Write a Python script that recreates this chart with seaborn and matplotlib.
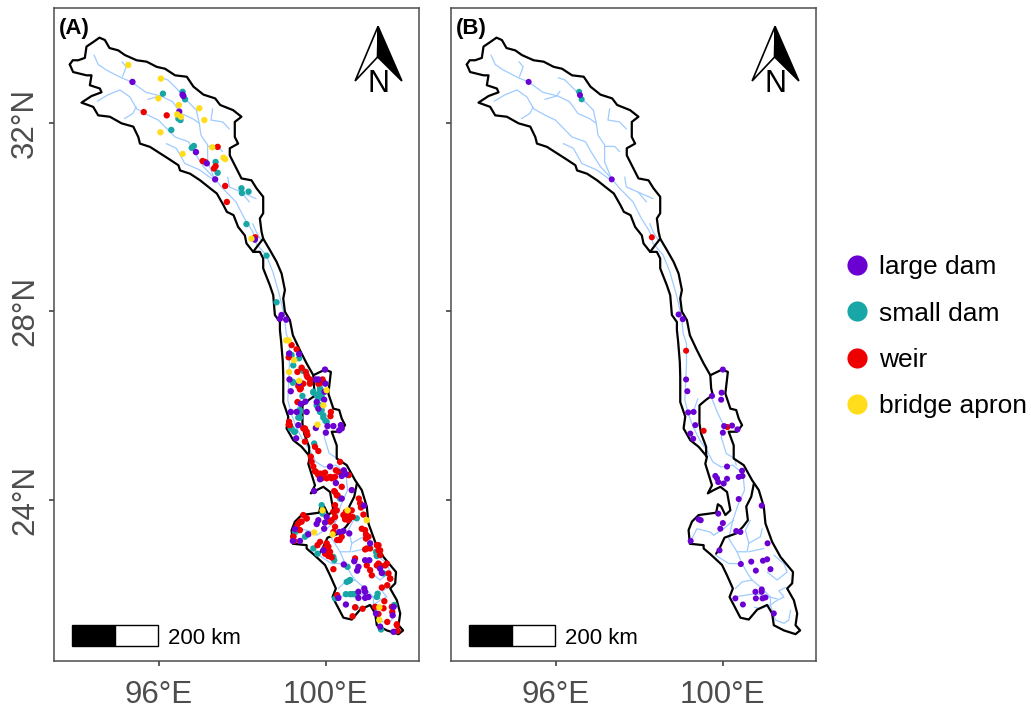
import pandas as pd
import matplotlib.pyplot as plt
from matplotlib.lines import Line2D
from matplotlib.patches import Polygon, Rectangle
import seaborn as sns

# basin outline (lon, lat)
outline = [
    (93.87, 33.24), (93.94, 33.33), (94.07, 33.33), (94.23, 33.38), (94.27, 33.62), (94.42, 33.71),
    (94.58, 33.81), (94.71, 33.76), (94.82, 33.59), (95.03, 33.54), (95.19, 33.44), (95.47, 33.33),
    (95.71, 33.30), (95.95, 33.19), (96.15, 33.15), (96.39, 33.01), (96.67, 32.98), (96.83, 32.77),
    (97.07, 32.60), (97.35, 32.52), (97.47, 32.38), (97.78, 32.27), (97.98, 32.13), (97.82, 32.02),
    (97.82, 31.70), (97.90, 31.56), (97.70, 31.46), (97.70, 31.31), (97.86, 31.03), (97.98, 30.82),
    (98.22, 30.78), (98.34, 30.61), (98.50, 30.43), (98.50, 30.08), (98.42, 29.97), (98.46, 29.69),
    (98.50, 29.54), (98.66, 29.30), (98.82, 29.05), (98.94, 28.80), (99.02, 28.45), (98.98, 28.27),
    (99.02, 27.99), (99.14, 27.81), (99.21, 27.49), (99.38, 27.17), (99.54, 26.89), (99.70, 26.64),
    (99.98, 26.76), (100.12, 26.71), (100.06, 26.25), (100.18, 25.93), (100.32, 25.90), (100.38, 25.72),
    (100.46, 25.58), (100.34, 25.44), (100.14, 25.44), (100.26, 25.15), (100.26, 24.87), (100.50, 24.73),
    (100.70, 24.41), (100.86, 24.20), (100.98, 23.85), (101.02, 23.49), (101.18, 23.10), (101.38, 22.78),
    (101.68, 22.46), (101.66, 22.22), (101.54, 22.11), (101.70, 21.86), (101.78, 21.58), (101.74, 21.33),
    (101.85, 21.22), (101.74, 21.14), (101.46, 21.22), (101.22, 21.33), (101.18, 21.58), (101.06, 21.76),
    (100.82, 21.66), (100.62, 21.45), (100.42, 21.49), (100.26, 21.76), (100.16, 21.93), (100.24, 22.11),
    (100.10, 22.39), (99.98, 22.61), (99.70, 22.84), (99.54, 22.96), (99.54, 23.03), (99.21, 23.06),
    (99.18, 23.35), (99.26, 23.53), (99.42, 23.67), (99.84, 23.72), (99.88, 23.90), (99.96, 23.85),
    (100.06, 23.67), (100.18, 23.77), (100.10, 24.16), (99.94, 24.27), (99.78, 24.20), (99.64, 24.13),
    (99.74, 24.30), (99.58, 24.76), (99.62, 24.91), (99.42, 25.12), (99.22, 25.26), (99.06, 25.51),
    (99.10, 25.76), (98.98, 26.07), (98.98, 26.61), (98.97, 26.92), (98.93, 27.35), (98.90, 27.60),
    (98.90, 27.77), (98.78, 27.92), (98.74, 28.34), (98.66, 28.55), (98.50, 28.91), (98.50, 29.12),
    (98.42, 29.26), (98.26, 29.26), (98.10, 29.44), (98.06, 29.61), (97.90, 29.79), (97.79, 30.04),
    (97.63, 30.11), (97.55, 30.25), (97.39, 30.50), (97.23, 30.61), (96.99, 30.78), (96.75, 30.92),
    (96.51, 30.99), (96.47, 31.10), (96.23, 31.24), (95.91, 31.42), (95.79, 31.49), (95.55, 31.56),
    (95.51, 31.70), (95.39, 31.92), (95.11, 31.99), (94.83, 32.13), (94.55, 32.16), (94.43, 32.34),
    (94.15, 32.43), (94.39, 32.57), (94.63, 32.65), (94.59, 32.73), (94.35, 32.80), (94.39, 33.01),
    (94.27, 33.01), (93.95, 33.08), (93.87, 33.24),
]

# inner sub-basin boundaries
boundaries = [
    [(98.26, 29.26), (98.36, 29.38), (98.50, 29.54)],
    [(99.70, 26.64), (99.72, 26.36), (99.76, 26.22), (99.60, 26.12), (99.44, 26.00), (99.44, 25.61),
     (99.48, 25.40), (99.60, 25.12), (99.60, 24.92)],
    [(100.74, 24.33), (100.68, 24.06), (100.56, 23.85), (100.60, 23.56), (100.48, 23.42), (100.32, 23.28),
     (100.04, 23.19), (99.92, 22.96), (99.84, 22.85)],
]

# river network
rivers = [
    [(94.45, 33.44), (94.55, 33.24), (94.75, 33.12), (95.10, 32.96), (95.35, 32.87), (95.69, 32.65),
     (96.05, 32.57), (96.33, 32.45), (96.53, 32.20), (96.81, 32.09), (96.97, 31.99), (97.01, 31.74),
     (97.17, 31.53), (97.17, 31.17), (97.33, 30.82), (97.53, 30.61), (97.85, 30.32), (98.05, 29.97),
     (98.25, 29.69), (98.33, 29.44), (98.57, 29.19), (98.73, 28.84), (98.89, 28.34), (99.01, 27.88),
     (99.05, 27.53), (99.13, 27.31), (99.13, 26.89), (99.11, 26.53), (99.09, 26.11),
     (99.17, 25.83), (99.29, 25.54), (99.45, 25.26), (99.64, 25.01), (99.76, 24.80), (99.96, 24.69),
     (100.24, 24.73), (100.48, 24.55), (100.52, 24.20), (100.36, 23.88), (100.24, 23.56), (100.14, 23.17),
     (100.34, 22.89), (100.46, 22.64), (100.62, 22.39), (100.70, 22.29), (100.94, 22.11), (101.14, 21.93),
     (101.14, 21.76), (101.26, 21.44), (101.46, 21.37), (101.58, 21.44), (101.62, 21.65)],
    [(95.12, 33.30), (95.22, 33.19), (95.13, 32.98)],
    [(94.53, 32.46), (94.77, 32.59), (95.07, 32.70), (95.31, 32.55), (95.47, 32.30), (95.75, 32.16),
     (95.99, 32.06), (96.19, 31.88), (96.39, 31.70), (96.71, 31.60), (96.87, 31.35), (97.07, 31.07),
     (97.33, 30.82)],
    [(95.46, 32.34), (95.38, 32.20), (95.18, 32.09)],
    [(96.18, 31.56), (96.42, 31.46), (96.58, 31.21), (96.62, 31.14), (96.98, 31.00), (97.26, 30.82)],
    [(96.06, 32.96), (96.22, 32.91), (96.46, 32.70), (96.62, 32.52), (96.90, 32.27), (96.97, 31.99)],
    [(95.74, 32.50), (96.02, 32.57), (96.10, 32.67)],
    [(97.29, 32.30), (97.25, 32.06), (97.53, 32.02), (97.69, 31.87)],
    [(97.17, 31.50), (97.41, 31.50), (97.53, 31.39)],
    [(97.65, 30.85), (97.69, 30.64), (97.97, 30.53), (98.33, 30.39)],
    [(97.97, 30.53), (98.17, 30.32)],
    [(98.25, 29.86), (98.33, 29.69), (98.45, 29.51)],
    [(99.72, 26.18), (99.88, 25.83), (100.04, 25.54), (99.96, 25.33), (100.08, 24.98), (100.28, 24.87),
     (100.32, 24.73)],
    [(99.40, 26.14), (99.32, 25.93), (99.21, 25.83)],
    [(99.26, 23.17), (99.38, 23.38), (99.70, 23.31), (99.78, 23.24), (100.02, 23.38), (100.26, 23.56)],
    [(100.34, 22.89), (100.58, 22.89), (100.62, 23.07), (100.54, 23.35), (100.66, 23.56)],
    [(100.70, 22.29), (100.46, 22.25), (100.30, 22.11)],
    [(100.62, 23.07), (100.90, 23.21), (100.94, 23.38)],
    [(100.62, 22.89), (100.98, 22.96)],
    [(99.82, 22.82), (100.14, 22.64), (100.42, 22.64)],
    [(101.22, 22.82), (101.46, 22.64), (101.54, 22.46), (101.30, 22.29), (101.06, 22.46)],
    [(101.50, 22.13), (101.34, 22.06), (101.46, 21.93), (101.30, 21.86), (101.14, 21.76), (100.90, 21.69),
     (100.75, 21.71)],
    [(100.26, 21.93), (100.78, 22.00), (101.30, 21.89)],
]

# panel A barriers
a_large = [
    (95.37, 32.87), (96.57, 32.60), (96.59, 32.57), (96.49, 32.24), (96.89, 31.38), (97.15, 31.14),
    (97.35, 30.80), (98.30, 29.52), (98.90, 27.84), (98.94, 27.92), (99.05, 27.82),
    (99.36, 27.09), (99.12, 27.10), (99.13, 26.55), (99.16, 26.30), (99.36, 26.48), (99.16, 25.86),
    (99.30, 25.86), (99.54, 25.86), (99.40, 26.03), (99.51, 26.08), (99.76, 26.55), (99.82, 26.55),
    (99.98, 26.76), (99.99, 26.46), (99.97, 26.29), (99.96, 26.12), (99.78, 26.07), (99.82, 25.93),
    (99.34, 25.58), (99.76, 25.52), (100.00, 25.42), (99.29, 25.30), (100.04, 25.56), (100.18, 25.56),
    (100.36, 25.58), (100.38, 25.51), (100.32, 25.47), (100.10, 24.70), (100.43, 24.62), (100.38, 24.50),
    (100.48, 24.54), (99.86, 24.43), (100.24, 24.35), (99.72, 24.18), (100.62, 24.20), (100.38, 24.02),
    (100.91, 23.87), (100.02, 23.63), (99.82, 23.56), (99.78, 23.48), (99.98, 23.51), (99.96, 23.38),
    (99.26, 23.37), (99.38, 23.12), (99.21, 23.12), (99.58, 23.26), (100.32, 23.31), (100.42, 23.33),
    (100.56, 23.28), (101.06, 23.07), (99.94, 22.92), (100.68, 22.69), (100.43, 22.62), (101.04, 22.71),
    (100.94, 22.71), (100.78, 22.57), (100.75, 22.49), (101.30, 22.53), (101.34, 22.44), (100.92, 22.11),
    (100.78, 22.04), (100.94, 22.04), (100.78, 21.91), (100.94, 21.91), (101.02, 21.93), (100.30, 21.91),
    (100.48, 21.77), (101.20, 21.58), (101.62, 21.72), (101.60, 21.54), (101.62, 21.19), (101.30, 21.30),
]
a_small = [
    (96.10, 32.62), (96.57, 32.66), (96.63, 32.50), (96.47, 32.09), (96.52, 32.06), (96.30, 31.85),
    (96.79, 31.47), (96.84, 31.51), (97.36, 31.17), (97.41, 30.94), (97.98, 30.61), (97.99, 30.51),
    (98.15, 30.54), (98.10, 29.85), (98.58, 29.18), (98.82, 28.19),
    (99.13, 27.10), (99.36, 27.00), (99.22, 26.85), (99.44, 26.76), (99.21, 26.48), (99.42, 26.43),
    (99.44, 26.20), (99.70, 26.27), (99.86, 26.32), (99.78, 26.22), (99.34, 25.74), (99.38, 25.86),
    (99.86, 26.00), (99.94, 25.79), (99.99, 25.67), (99.18, 25.51), (99.26, 25.44), (99.72, 25.19),
    (99.90, 23.88), (99.92, 23.70), (99.34, 23.35), (99.50, 23.21), (99.56, 23.26), (99.26, 23.31),
    (99.70, 22.96), (99.80, 22.85), (100.18, 22.78), (100.20, 22.71), (100.52, 22.57), (100.50, 22.25),
    (100.55, 22.27), (100.48, 21.99), (100.58, 21.99), (100.67, 21.99), (100.22, 21.90), (100.71, 21.71),
    (101.24, 22.00), (101.22, 21.93), (101.38, 22.43), (101.20, 22.89), (101.22, 22.82), (100.74, 23.60),
    (100.34, 24.02), (101.32, 21.24), (101.64, 21.76), (99.90, 26.18), (99.90, 25.90),
    (99.70, 26.29), (99.86, 26.36), (99.90, 26.25), (99.82, 26.14), (99.78, 26.00), (99.86, 25.86),
    (99.94, 25.74), (100.02, 25.65), (99.42, 26.78), (99.46, 26.73), (99.18, 27.07), (99.21, 26.50),
    (99.42, 26.46), (99.38, 25.90), (99.38, 25.74), (99.16, 25.51), (99.24, 25.44), (100.62, 21.99),
    (100.70, 21.99), (100.58, 22.29), (101.22, 22.80),
]
a_weir = [
    (95.64, 32.23), (96.19, 32.16), (97.41, 31.49), (97.05, 31.19), (97.11, 31.17), (97.32, 31.03),
    (97.36, 31.08), (97.59, 30.66), (97.63, 30.32), (98.31, 29.57),
    (99.18, 27.28), (99.30, 27.19), (99.11, 27.02), (99.52, 26.71), (99.54, 26.64), (99.32, 26.71),
    (99.42, 26.46), (99.34, 26.41), (99.62, 26.55), (99.62, 26.48), (99.40, 26.36), (99.92, 26.55),
    (99.88, 26.48), (99.94, 26.50), (99.32, 26.07), (100.12, 25.86), (100.11, 25.77), (99.12, 25.65),
    (99.14, 25.58), (99.11, 25.59), (99.50, 25.51), (99.54, 25.44), (99.56, 25.37), (99.50, 25.23),
    (99.74, 25.12), (99.82, 25.03), (99.64, 24.91), (99.66, 24.80), (99.70, 24.70), (99.76, 24.59),
    (99.82, 24.52), (99.94, 24.55), (100.02, 24.45), (100.14, 24.45), (100.22, 24.48), (100.24, 24.62),
    (100.34, 24.80), (100.42, 24.55), (100.55, 24.52), (100.20, 24.18), (100.26, 24.09), (100.38, 24.27),
    (100.79, 24.02), (100.82, 23.92), (100.90, 23.68), (100.22, 23.88), (100.26, 23.77), (100.18, 23.74),
    (100.48, 23.74), (100.62, 23.77), (100.54, 23.63), (100.46, 23.60), (100.64, 23.63), (100.22, 23.42),
    (100.18, 23.31), (100.27, 23.14), (100.86, 23.38), (100.96, 23.26), (101.02, 23.21), (100.98, 22.96),
    (101.26, 23.03), (101.30, 22.92), (99.34, 23.49), (99.42, 23.53), (99.54, 23.60), (99.30, 23.42),
    (99.22, 23.21), (99.24, 23.12), (99.86, 23.10), (100.02, 23.07), (99.98, 22.96), (100.06, 22.92),
    (100.02, 22.84), (100.10, 22.80), (100.70, 22.75), (100.98, 22.60), (101.06, 22.50), (101.10, 22.39),
    (101.26, 22.64), (101.46, 22.64), (101.50, 22.43), (101.54, 22.32), (101.34, 22.13), (101.47, 22.18),
    (100.18, 22.52), (100.27, 21.97), (101.40, 21.84), (101.59, 21.61), (100.88, 21.68), (100.64, 21.52),
    (101.18, 21.72), (101.47, 21.40), (101.70, 21.33), (101.72, 21.21), (101.26, 21.57),
    (99.74, 24.60), (99.86, 24.55), (99.98, 24.57), (100.10, 24.48), (100.18, 24.47), (100.30, 24.59),
    (100.54, 24.52), (99.90, 24.45), (100.22, 24.16), (100.28, 24.09), (100.84, 23.83), (100.20, 23.74),
    (100.22, 23.63), (100.14, 23.56), (100.10, 23.53), (100.42, 23.67), (100.54, 23.67), (100.46, 23.58),
    (100.54, 23.56), (100.94, 23.35), (100.96, 23.17), (100.38, 23.21), (100.33, 23.14), (100.94, 22.94),
    (101.06, 22.96), (101.22, 23.03), (101.26, 22.92), (101.30, 22.82), (99.80, 23.03), (100.06, 23.00),
    (100.02, 22.89), (100.10, 22.89), (100.06, 22.80), (100.14, 22.77), (99.98, 22.85), (101.22, 22.60),
    (101.30, 22.60), (101.42, 22.60), (101.54, 22.32), (99.46, 23.67), (99.38, 23.53), (99.54, 23.60),
    (99.22, 23.21), (99.38, 23.35), (101.38, 21.69), (101.58, 21.72), (100.70, 21.71), (101.70, 21.35),
    (99.42, 26.80), (99.56, 26.60), (99.62, 26.46), (99.46, 26.46), (99.38, 26.34), (99.86, 26.50),
    (99.82, 26.46), (99.46, 25.51), (99.53, 25.44),
]
a_bridge = [
    (95.27, 33.23), (96.05, 32.94), (95.99, 32.52), (96.48, 32.38), (96.44, 32.18), (96.53, 32.13),
    (96.97, 32.31), (97.09, 32.06), (96.04, 31.80), (97.28, 31.48), (96.57, 31.34), (97.55, 31.26),
    (97.59, 31.23), (98.22, 29.54),
    (99.05, 27.38), (99.11, 27.38), (99.24, 26.96), (99.12, 26.71), (99.36, 26.52), (100.02, 26.32),
    (99.94, 26.00), (99.80, 25.59), (100.52, 23.77), (99.92, 23.77), (100.98, 23.56), (99.72, 23.30),
    (100.16, 23.26), (101.28, 21.71), (101.28, 21.44),
]

# panel B barriers
b_large = [
    (95.35, 32.87), (96.58, 32.59), (97.34, 30.80), (98.94, 27.93), (99.04, 27.83),
    (100.00, 26.76), (99.12, 26.55), (99.15, 26.30), (99.97, 26.27), (99.74, 26.20), (99.96, 26.12),
    (99.17, 25.85), (99.30, 25.86), (99.34, 25.58), (100.03, 25.56), (100.22, 25.57), (100.35, 25.49),
    (100.00, 25.42), (99.22, 25.40), (99.29, 25.29), (100.10, 24.70), (100.46, 24.61), (100.47, 24.50),
    (100.38, 24.48), (99.82, 24.50), (99.86, 24.45), (99.89, 24.37), (100.10, 24.44), (100.02, 24.34),
    (100.38, 24.01), (100.93, 23.87), (99.89, 23.70), (99.42, 23.58), (99.47, 23.56), (100.00, 23.50),
    (99.94, 23.38), (100.32, 23.33), (100.42, 23.31), (99.23, 23.12), (101.07, 23.07), (99.92, 22.92),
    (100.43, 22.63), (100.68, 22.68), (100.96, 22.70), (101.06, 22.73), (100.79, 22.49), (101.14, 22.52),
    (100.78, 22.04), (100.93, 22.09), (100.93, 22.04), (100.79, 21.90), (100.95, 21.90), (101.02, 21.92),
    (100.30, 21.90), (100.48, 21.77), (101.22, 21.58),
]
b_small = [(96.56, 32.66), (96.62, 32.50)]
b_weir = [(98.30, 29.57), (99.12, 27.16), (99.54, 25.46), (100.11, 25.54)]
b_bridge = []

type_names = ["large dam", "small dam", "weir", "bridge apron"]
type_colors = ["#6A00D2", "#18A6A6", "#EE0000", "#FFDD1A"]
x_ticks = [96, 100]
x_labels = ["96°E", "100°E"]
y_ticks = [24, 28, 32]
y_labels = ["24°N", "28°N", "32°N"]
scale_label = "200 km"


def make_frame(large, small, weir, bridge):
    parts = []
    # later groups sit on top
    for name, pts in [("small dam", small), ("weir", weir), ("large dam", large), ("bridge apron", bridge)]:
        d = pd.DataFrame(pts, columns=["lon", "lat"])
        d["type"] = name
        parts.append(d)
    return pd.concat([p for p in parts if len(p) > 0], ignore_index=True)


def draw_panel(ax, df, label, show_y, dot_size):
    palette = dict(zip(type_names, type_colors))
    for river in rivers:
        xs, ys = zip(*river)
        ax.plot(xs, ys, color="#9FCBFF", lw=0.9, solid_joinstyle="round", zorder=1)
    xs, ys = zip(*outline)
    ax.plot(xs, ys, color="black", lw=1.6, zorder=2)
    for line in boundaries:
        xs, ys = zip(*line)
        ax.plot(xs, ys, color="black", lw=1.6, zorder=2)

    sns.scatterplot(data=df, x="lon", y="lat", hue="type", palette=palette, s=dot_size, linewidth=0,
                    legend=False, ax=ax, zorder=3)

    ax.set_xlim(93.48, 102.23)
    ax.set_ylim(20.57, 34.44)
    ax.set_xlabel("")
    ax.set_ylabel("")
    ax.set_xticks(x_ticks)
    ax.set_xticklabels(x_labels)
    ax.set_yticks(y_ticks)
    if show_y:
        ax.set_yticklabels(y_labels, rotation=90, va="center")
    else:
        ax.set_yticklabels([])
    ax.tick_params(bottom=True, left=True, length=3.8, width=1.1, color="#333333",
                   labelcolor="#4D4D4D", labelsize=22.5)
    ax.tick_params(axis="x", pad=9.6)
    ax.tick_params(axis="y", pad=5.8)
    for side in ax.spines.values():
        side.set_linewidth(1.1)
        side.set_color("#4D4D4D")

    ax.text(0.016, 0.969, label, transform=ax.transAxes, fontsize=16, fontweight="bold", color="black",
            ha="left", va="center")

    # scale bar
    ax.add_patch(Rectangle((93.92, 20.89), 1.04, 0.44, fc="black", ec="black", lw=1, zorder=4))
    ax.add_patch(Rectangle((94.96, 20.89), 1.01, 0.44, fc="white", ec="black", lw=1, zorder=4))
    ax.text(96.22, 21.05, scale_label, fontsize=16, color="black", ha="left", va="center")

    # north arrow
    ax.add_patch(Polygon([(101.25, 34.05), (100.70, 32.89), (101.24, 33.40)], fc="white", ec="black", lw=1.2, zorder=4))
    ax.add_patch(Polygon([(101.25, 34.05), (101.82, 32.89), (101.24, 33.40)], fc="black", ec="black", lw=1.2, zorder=4))
    ax.text(101.25, 32.83, "N", fontsize=22, color="black", ha="center", va="center", zorder=5)


def main():
    sns.set_theme(style="white")
    plt.rcParams["font.family"] = ["Liberation Sans", "DejaVu Sans"]

    W, H = 1031, 708
    fig = plt.figure(figsize=(W / 100, H / 100), dpi=100)
    ax_a = fig.add_axes([53.5 / W, 1 - 661 / H, 365.5 / W, 653 / H])
    ax_b = fig.add_axes([450.5 / W, 1 - 661 / H, 365.5 / W, 653 / H])

    draw_panel(ax_a, make_frame(a_large, a_small, a_weir, a_bridge), "(A)", True, 21)
    draw_panel(ax_b, make_frame(b_large, b_small, b_weir, b_bridge), "(B)", False, 19)

    handles = [Line2D([], [], ls="none", marker="o", ms=14.5, mec="none", mfc=c) for c in type_colors]
    fig.legend(handles, type_names, loc="center left", bbox_to_anchor=(839.5 / W, 1 - 336.8 / H), frameon=False,
               fontsize=19, labelspacing=0.85, handletextpad=0.18, handlelength=1.3, borderpad=0, borderaxespad=0,
               labelcolor="black")

    fig.savefig("out.png", dpi=100)


if __name__ == "__main__":
    main()
